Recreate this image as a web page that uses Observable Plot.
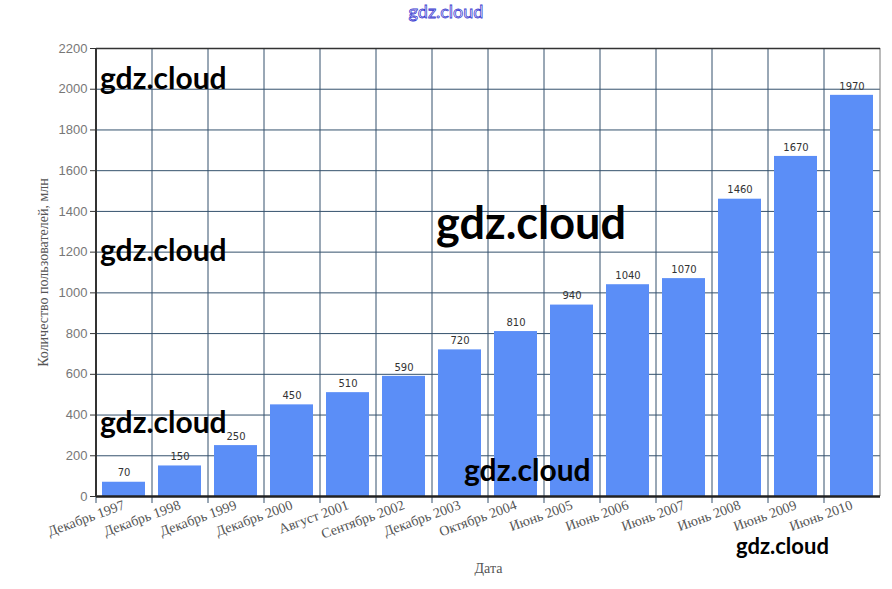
<!DOCTYPE html>
<html><head><meta charset="utf-8">
<script src="https://cdn.jsdelivr.net/npm/d3@7"></script>
<script src="https://cdn.jsdelivr.net/npm/@observablehq/plot@0.6"></script>
<style>
body{margin:0;background:#fff;}
#wrap{position:relative;width:892px;height:589px;overflow:hidden;}
.wm{position:absolute;font-family:Lato,sans-serif;font-weight:bold;color:#000;white-space:nowrap;line-height:1;}
#title{position:absolute;left:0;width:892px;top:2px;text-align:center;font-family:Lato,sans-serif;font-size:18px;color:#fff;-webkit-text-stroke:0.8px #3a3ad0;line-height:1;}
</style>
</head><body>
<div id="wrap"><div id="chart"></div>
<div id="title">gdz.cloud</div>
<div class="wm" style="left:100px;top:62px;font-size:30px">gdz.cloud</div>
<div class="wm" style="left:100px;top:234px;font-size:30px">gdz.cloud</div>
<div class="wm" style="left:100px;top:406px;font-size:30px">gdz.cloud</div>
<div class="wm" style="left:436px;top:200px;font-size:45px">gdz.cloud</div>
<div class="wm" style="left:464px;top:454px;font-size:30px">gdz.cloud</div>
<div class="wm" style="left:736px;top:535px;font-size:22px">gdz.cloud</div>
</div>
<script>
const categories = ["Декабрь 1997","Декабрь 1998","Декабрь 1999","Декабрь 2000","Август 2001","Сентябрь 2002","Декабрь 2003","Октябрь 2004","Июнь 2005","Июнь 2006","Июнь 2007","Июнь 2008","Июнь 2009","Июнь 2010"];
const users = [70,150,250,450,510,590,720,810,940,1040,1070,1460,1670,1970];
const yTicks = [0,200,400,600,800,1000,1200,1400,1600,1800,2000,2200];

const data = categories.map((c,i)=>({date:c, value:users[i]}));
const grid = "#34516c";

const chart = Plot.plot({
  width: 892, height: 589,
  marginLeft: 96, marginRight: 12, marginTop: 48, marginBottom: 93,
  style: {background: "#fff"},
  x: {domain: categories, paddingInner: 0.23, paddingOuter: 0.115, label: null},
  y: {domain: [0, 2200], label: null},
  marks: [
    Plot.ruleY(yTicks, {y: d=>d, stroke: grid, strokeWidth: 1}),
    Plot.ruleX(categories, {x: d=>d, dx: -28, stroke: grid, strokeWidth: 1, insetBottom: -7}),
    Plot.ruleX([categories[categories.length-1]], {x: d=>d, dx: 28, stroke: "#777", strokeWidth: 1}),
    Plot.barY(data, {x: "date", y: "value", fill: "#5b8ef7"}),
    Plot.text(data, {x: "date", y: "value", text: d=>String(d.value), dy: -9, fontSize: 10, fill: "#333", fontFamily: "DejaVu Sans, sans-serif"}),
    Plot.ruleY([0], {stroke: "#222", strokeWidth: 2.5}),
    Plot.ruleX([categories[0]], {x: d=>d, dx: -28, stroke: "#333", strokeWidth: 2}),
    Plot.ruleY([2200], {stroke: "#333", strokeWidth: 1.5}),
    Plot.axisY({ticks: yTicks, tickFormat: d=>String(d), tickSize: 6, tickPadding: 3, fontSize: 13, fill: "#777", stroke: "#333", fontFamily: "Liberation Sans, sans-serif",
      label: "Количество пользователей, млн", labelAnchor: "center", labelArrow: "none", labelOffset: 58}),
    Plot.axisX({tickSize: 0, tickRotate: -20, tickPadding: 8, fontSize: 14, fill: "#555", fontFamily: "Liberation Serif, serif",
      label: "Дата", labelAnchor: "center", labelArrow: "none", labelOffset: 76})
  ]
});
chart.querySelectorAll("[aria-label='y-axis label'], [aria-label='x-axis label']").forEach(g=>{
  g.setAttribute("font-family","Liberation Serif, serif");
  g.setAttribute("font-size","14");
  g.setAttribute("fill","#555");
});
document.getElementById("chart").appendChild(chart);
</script>
</body></html>
